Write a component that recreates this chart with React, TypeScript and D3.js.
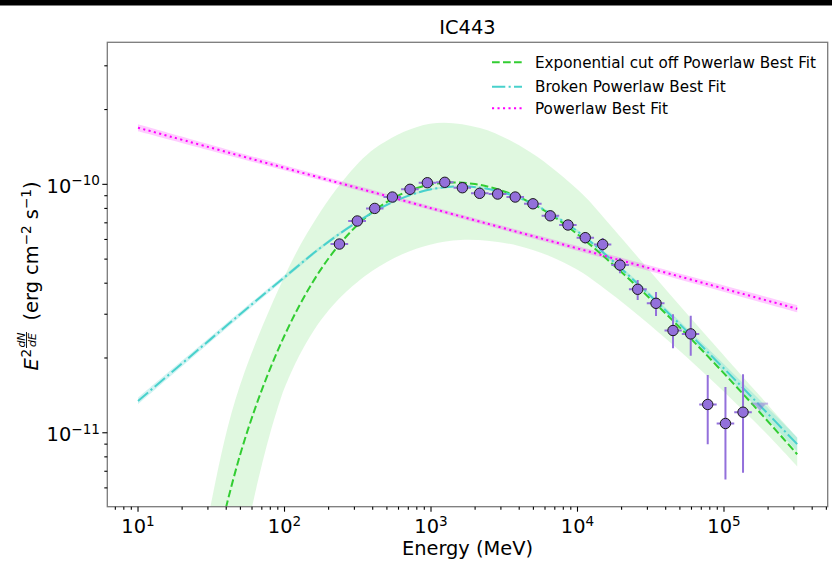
import React from 'react';
import * as d3 from 'd3';

const W = 832;
const H = 563;
const M = { left: 107.3, right: 827.7, top: 42.3, bottom: 506.7 };
const X_DOMAIN: [number, number] = [6.17, 5.105e5];
const Y_DOMAIN: [number, number] = [5.04e-12, 3.73e-10];

const TITLE = 'IC443';
const X_LABEL = 'Energy (MeV)';
const xTickExps = [1, 2, 3, 4, 5];
const yTickExps = [-11, -10];

const legendLabels = [
  'Exponential cut off Powerlaw Best Fit',
  'Broken Powerlaw Best Fit',
  'Powerlaw Best Fit',
];

// SED points (MeV, erg cm^-2 s^-1)
const pointEnergy = [237, 314, 413, 545, 719, 944, 1242, 1637, 2148, 2851, 3758, 4966, 6516, 8610, 11298, 14859, 19498, 25763, 34356, 44875, 59293, 77446, 102329, 134896];
const pointFlux = [5.75e-11, 7.12e-11, 8.0e-11, 8.89e-11, 9.55e-11, 1.015e-10, 1.019e-10, 9.69e-11, 9.2e-11, 9.14e-11, 8.89e-11, 8.35e-11, 7.47e-11, 6.86e-11, 6.1e-11, 5.73e-11, 4.73e-11, 3.78e-11, 3.32e-11, 2.58e-11, 2.5e-11, 1.3e-11, 1.09e-11, 1.21e-11];
const pointFluxHigh = [5.95e-11, 7.33e-11, 8.2e-11, 9.1e-11, 9.77e-11, 1.038e-10, 1.043e-10, 9.93e-11, 9.45e-11, 9.4e-11, 9.16e-11, 8.63e-11, 7.76e-11, 7.16e-11, 6.42e-11, 6.08e-11, 5.05e-11, 4.12e-11, 3.69e-11, 3.0e-11, 2.96e-11, 1.71e-11, 1.53e-11, 1.72e-11];
const pointFluxLow = [5.55e-11, 6.91e-11, 7.8e-11, 8.68e-11, 9.33e-11, 9.92e-11, 9.95e-11, 9.45e-11, 8.95e-11, 8.88e-11, 8.62e-11, 8.07e-11, 7.18e-11, 6.56e-11, 5.78e-11, 5.38e-11, 4.39e-11, 3.42e-11, 2.95e-11, 2.19e-11, 2.04e-11, 9.0e-12, 6.49e-12, 6.9e-12];
const binEdges = [206, 272, 360, 474, 625, 824, 1084, 1426, 1875, 2472, 3273, 4315, 5689, 7499, 9863, 12972, 17022, 22439, 29717, 39264, 51523, 67764, 89125, 117490, 154882];
const ulBin = [154882, 200000];
const ulFlux = 1.31e-11;

// model curves, log10(E/MeV) and log10(E^2 dN/dE)
const cutoffLogE = [1.5, 1.6, 1.7, 1.8, 1.9, 2.0, 2.1, 2.2, 2.3, 2.4, 2.5, 2.6, 2.7, 2.8, 2.9, 3.0, 3.1, 3.2, 3.3, 3.4, 3.6, 3.8, 4.0, 4.2, 4.4, 4.6, 4.8, 5.0, 5.2, 5.4, 5.5];
const cutoffLogF = [-11.5625, -11.3025, -11.0825, -10.9005, -10.7445, -10.6085, -10.4895, -10.3865, -10.2985, -10.2245, -10.1625, -10.1115, -10.0705, -10.0385, -10.0155, -10.0005, -9.993, -9.993, -9.999, -10.011, -10.051, -10.115, -10.201, -10.301, -10.407, -10.519, -10.637, -10.761, -10.889, -11.02, -11.0865];
const cutoffUpLogE = [1.4, 1.494, 1.664, 1.926, 2.154, 2.427, 2.652, 2.993, 3.334, 3.676, 4.017, 4.174, 4.495, 4.768, 5.061, 5.246, 5.5];
const cutoffUpLogF = [-11.62, -11.298, -10.868, -10.466, -10.197, -9.965, -9.841, -9.756, -9.773, -9.87, -10.03, -10.13, -10.35, -10.535, -10.73, -10.852, -11.02];
const cutoffLoLogE = [1.7, 1.8, 1.9, 1.971, 2.0, 2.1, 2.2, 2.3, 2.4, 2.6, 2.8, 3.0, 3.2, 3.4, 3.6, 3.8, 4.0, 4.154, 4.379, 4.6, 4.8, 5.0, 5.2, 5.35, 5.5];
const cutoffLoLogF = [-11.521, -11.241, -11.006, -10.868, -10.82, -10.69, -10.588, -10.508, -10.444, -10.348, -10.282, -10.242, -10.224, -10.228, -10.248, -10.286, -10.344, -10.406, -10.51, -10.62, -10.725, -10.835, -10.95, -11.04, -11.135];

const brokenLogE = [1.0, 1.25, 1.5, 1.75, 2.0, 2.25, 2.5, 2.75, 3.0, 3.25, 3.5, 3.75, 4.0, 4.25, 4.5, 4.75, 5.0, 5.25, 5.5];
const brokenLogF = [-10.872, -10.7465, -10.621, -10.4965, -10.374, -10.2535, -10.15, -10.0685, -10.02, -10.009, -10.034, -10.095, -10.189, -10.3135, -10.45, -10.593, -10.7415, -10.893, -11.046];
const brokenErrDex = [0.013, 0.012, 0.011, 0.01, 0.009, 0.007, 0.006, 0.005, 0.004, 0.004, 0.004, 0.005, 0.006, 0.008, 0.01, 0.013, 0.017, 0.022, 0.028];

const plLogE = [1.0, 3.0, 5.5];
const plLogF = [-9.772, -10.096, -10.501];
const plErrDex = [0.014, 0.008, 0.015];

const GREEN = '#32CD32';
const CYAN = '#48D1CC';
const MAGENTA = '#FF00FF';
const PURPLE = '#9370DB';
const FONT = 'DejaVu Sans, Verdana, sans-serif';

type Pt = [number, number];

export default function App() {
  const x = d3.scaleLog().domain(X_DOMAIN).range([M.left, M.right]);
  const y = d3.scaleLog().domain(Y_DOMAIN).range([M.bottom, M.top]);
  const toPts = (le: number[], lf: number[], off: number[] | null = null, sign = 0): Pt[] =>
    le.map((v, i) => [Math.pow(10, v), Math.pow(10, lf[i] + (off ? sign * off[i] : 0))] as Pt);
  const line = d3.line<Pt>().x(d => x(d[0])).y(d => y(d[1])).curve(d3.curveCatmullRom);
  const band = (up: Pt[], lo: Pt[]) => {
    const a = line(up) as string;
    const b = line(lo.slice().reverse()) as string;
    return a + 'L' + b.slice(1) + 'Z';
  };

  const allXTicks = x.ticks();
  const allYTicks = y.ticks();
  const isMajor = (v: number) => Math.abs(Math.log10(v) - Math.round(Math.log10(v))) < 1e-9;

  const legendY = [62.3, 86.7, 108.3];
  const ulMid = Math.sqrt(ulBin[0] * ulBin[1]);

  return (
    <svg width={W} height={H} style={{ position: 'absolute', left: 0, top: 0, background: '#fff' }} fontFamily={FONT}>
      <rect x={0} y={0} width={W} height={H} fill="#fff" />
      <rect x={0} y={0} width={W} height={5.5} fill="#000" />
      <defs>
        <clipPath id="plotclip">
          <rect x={M.left} y={M.top} width={M.right - M.left} height={M.bottom - M.top} />
        </clipPath>
      </defs>
      <g clipPath="url(#plotclip)">
        <path d={band(toPts(cutoffUpLogE, cutoffUpLogF), toPts(cutoffLoLogE, cutoffLoLogF))} fill={GREEN} fillOpacity={0.15} stroke="none" />
        <path d={band(toPts(brokenLogE, brokenLogF, brokenErrDex, 1), toPts(brokenLogE, brokenLogF, brokenErrDex, -1))} fill={CYAN} fillOpacity={0.25} stroke="none" />
        <path d={band(toPts(plLogE, plLogF, plErrDex, 1), toPts(plLogE, plLogF, plErrDex, -1))} fill={MAGENTA} fillOpacity={0.2} stroke="none" />
        <path d={line(toPts(cutoffLogE, cutoffLogF)) as string} fill="none" stroke={GREEN} strokeWidth={2} strokeDasharray="7.7 3.3" />
        <path d={line(toPts(brokenLogE, brokenLogF)) as string} fill="none" stroke={CYAN} strokeWidth={2} strokeDasharray="13.3 3.3 2.1 3.3" />
        <path d={line(toPts(plLogE, plLogF)) as string} fill="none" stroke={MAGENTA} strokeWidth={2} strokeDasharray="2.1 3.4" />

        {/* upper limit */}
        <g opacity={0.5}>
          <line x1={x(ulBin[0])} x2={x(ulBin[1])} y1={y(ulFlux)} y2={y(ulFlux)} stroke={PURPLE} strokeWidth={2} />
          <path
            d={`M${x(ulMid) - 6},${y(ulFlux)} L${x(ulMid) + 6},${y(ulFlux)} L${x(ulMid)},${y(ulFlux) + 7} Z`}
            fill={PURPLE}
          />
        </g>

        {pointEnergy.map((e, i) => (
          <g key={'eb' + i}>
            <line x1={x(binEdges[i])} x2={x(binEdges[i + 1])} y1={y(pointFlux[i])} y2={y(pointFlux[i])} stroke={PURPLE} strokeWidth={2} />
            <line x1={x(e)} x2={x(e)} y1={y(pointFluxLow[i])} y2={y(pointFluxHigh[i])} stroke={PURPLE} strokeWidth={2} />
          </g>
        ))}
        {pointEnergy.map((e, i) => (
          <circle key={'pt' + i} cx={x(e)} cy={y(pointFlux[i])} r={5.2} fill={PURPLE} stroke="#1a1a1a" strokeWidth={1} />
        ))}
      </g>

      {/* frame */}
      <rect x={M.left} y={M.top} width={M.right - M.left} height={M.bottom - M.top} fill="none" stroke="#7a7a7a" strokeWidth={1.3} />

      {/* x ticks */}
      {allXTicks.map((v, i) => {
        const major = isMajor(v);
        const px = x(v);
        return <line key={'xt' + i} x1={px} x2={px} y1={M.bottom} y2={M.bottom + (major ? 5 : 3)} stroke="#000" strokeWidth={1.1} />;
      })}
      {xTickExps.map(e => (
        <text key={'xl' + e} x={x(Math.pow(10, e))} y={533.3} textAnchor="middle" fontSize={19.4} fill="#000">
          <tspan>10</tspan>
          <tspan dy={-7.5} fontSize={13.6}>{e < 0 ? '\u2212' + Math.abs(e) : String(e)}</tspan>
        </text>
      ))}

      {/* y ticks */}
      {allYTicks.map((v, i) => {
        const major = isMajor(v);
        const py = y(v);
        return <line key={'yt' + i} x1={M.left} x2={M.left - (major ? 5 : 3)} y1={py} y2={py} stroke="#000" strokeWidth={1.1} />;
      })}
      {yTickExps.map(e => (
        <text key={'yl' + e} x={100} y={y(Math.pow(10, e)) + 8.4} textAnchor="end" fontSize={19.4} fill="#000">
          <tspan>10</tspan>
          <tspan dy={-7.5} fontSize={13.6}>{e < 0 ? '\u2212' + Math.abs(e) : String(e)}</tspan>
        </text>
      ))}

      {/* title and labels */}
      <text x={(M.left + M.right) / 2} y={34} textAnchor="middle" fontSize={19.4} fill="#000">{TITLE}</text>
      <text x={(M.left + M.right) / 2} y={555} textAnchor="middle" fontSize={19.4} fill="#000">{X_LABEL}</text>

      <g transform={`translate(38, ${(M.top + M.bottom) / 2}) rotate(-90)`} fill="#000">
        <text x={-96} y={0} fontSize={19.4} fontStyle="italic">E</text>
        <text x={-83} y={-7.5} fontSize={13.6}>2</text>
        <text x={-65.5} y={-13} fontSize={11} fontStyle="italic" textAnchor="middle">dN</text>
        <line x1={-73.5} x2={-57.5} y1={-11.5} y2={-11.5} stroke="#000" strokeWidth={0.9} />
        <text x={-65.5} y={-2} fontSize={11} fontStyle="italic" textAnchor="middle">dE</text>
        <text x={-46} y={0} fontSize={19.4} style={{ whiteSpace: 'pre' }}>
          <tspan>(erg cm</tspan>
          <tspan dy={-7.5} fontSize={13.6}>{'\u22122'}</tspan>
          <tspan dy={7.5}>{' s'}</tspan>
          <tspan dy={-7.5} fontSize={13.6}>{'\u22121'}</tspan>
          <tspan dy={7.5}>)</tspan>
        </text>
      </g>

      {/* legend */}
      <g>
        <line x1={492} x2={522} y1={legendY[0]} y2={legendY[0]} stroke={GREEN} strokeWidth={2} strokeDasharray="7.7 3.3" />
        <line x1={492} x2={522} y1={legendY[1]} y2={legendY[1]} stroke={CYAN} strokeWidth={2} strokeDasharray="13.3 3.3 2.1 3.3" />
        <line x1={492} x2={522} y1={legendY[2]} y2={legendY[2]} stroke={MAGENTA} strokeWidth={2} strokeDasharray="2.1 3.4" />
        {legendLabels.map((t, i) => (
          <text key={'lg' + i} x={535} y={legendY[i] + 5.4} fontSize={15.2} fill="#000">{t}</text>
        ))}
      </g>
    </svg>
  );
}
